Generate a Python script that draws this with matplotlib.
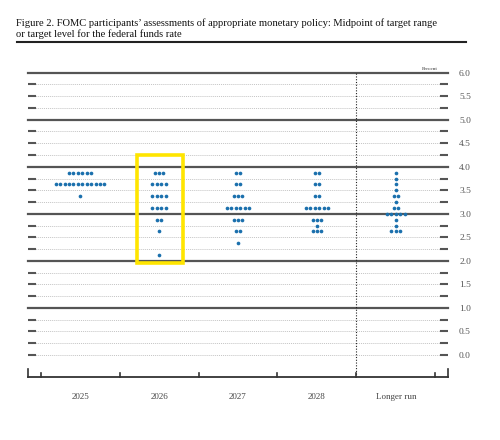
import matplotlib
matplotlib.use("Agg")
import matplotlib.pyplot as plt
from matplotlib.patches import Rectangle
import numpy as np

plt.rcParams['font.family'] = ['Liberation Serif', 'DejaVu Serif']

# dot plot data: midpoint level -> number of participants
columns = ['2025', '2026', '2027', '2028', 'Longer run']
dots_2025 = {3.875: 6, 3.625: 12, 3.375: 1}
dots_2026 = {3.875: 3, 3.625: 4, 3.375: 4, 3.125: 4, 2.875: 2, 2.625: 1, 2.125: 1}
dots_2027 = {3.875: 2, 3.625: 2, 3.375: 3, 3.125: 6, 2.875: 3, 2.625: 2, 2.375: 1}
dots_2028 = {3.875: 2, 3.625: 2, 3.375: 2, 3.125: 6, 2.875: 3, 2.75: 1, 2.625: 3}
dots_longer = {3.875: 1, 3.75: 1, 3.625: 1, 3.5: 1, 3.375: 2, 3.25: 1, 3.125: 2,
               3.0: 5, 2.875: 1, 2.75: 1, 2.625: 3}
all_dots = [dots_2025, dots_2026, dots_2027, dots_2028, dots_longer]
ytick_vals = np.arange(0, 6.01, 0.5)

DOT = '#1b70ad'
XMIN, XMAX = -0.66, 4.66
YBOT = -0.47

fig = plt.figure(figsize=(5, 4.4), dpi=100)
ax = fig.add_axes([0.056, 1 - 377 / 440, 0.84, (377 - 72.7) / 440])
ax.set_xlim(XMIN, XMAX)
ax.set_ylim(YBOT, 6.0)
for s in ax.spines.values():
    s.set_visible(False)

# grid lines
for lev in np.arange(0, 6.01, 0.25):
    if lev >= 1 and abs(lev - round(lev)) < 1e-9:
        ax.plot([XMIN, XMAX], [lev, lev], color='#555555', lw=1.6, clip_on=False, zorder=1)
    else:
        ax.plot([XMIN, XMAX], [lev, lev], color='#c4c4c4', lw=0.7,
                linestyle=(0, (1, 1)), zorder=1)
        ax.plot([XMIN, XMIN + 0.09], [lev, lev], color='#555555', lw=1.5, zorder=2)
        ax.plot([XMAX - 0.09, XMAX], [lev, lev], color='#555555', lw=1.5, zorder=2)

# divider before longer run
ax.plot([3.5, 3.5], [YBOT, 6.0], color='#222222', lw=0.8, linestyle=(0, (1, 1.5)),
        clip_on=False, zorder=2)

# bottom axis
ax.plot([XMIN, XMAX], [YBOT, YBOT], color='#333333', lw=1.3, clip_on=False, zorder=3)
for xt in [XMIN, XMAX]:
    ax.plot([xt, xt], [YBOT, YBOT + 0.16], color='#333333', lw=1.2, clip_on=False, zorder=3)
for xt in np.arange(-0.5, 4.6, 1.0):
    ax.plot([xt, xt], [YBOT, YBOT + 0.09], color='#333333', lw=1.2, clip_on=False, zorder=3)

# dots
dx = 0.056
for i, col in enumerate(all_dots):
    xs, ys = [], []
    for lev, n in col.items():
        for k in range(n):
            xs.append(i + (k - (n - 1) / 2) * dx)
            ys.append(lev)
    ax.scatter(xs, ys, s=7, color=DOT, linewidths=0, zorder=4)

# highlight box
ax.add_patch(Rectangle((0.72, 1.95), 0.58, 2.3, fill=False, edgecolor='#ffe500',
                       lw=2.6, zorder=5))

# labels
for i, name in enumerate(columns):
    ax.text(i, YBOT - 0.43, name, ha='center', va='center', fontsize=6.5, color='#444444')

ax.yaxis.tick_right()
ax.set_yticks(ytick_vals)
ax.set_yticklabels(['%.1f' % v for v in ytick_vals], fontsize=6.8, color='#555555')
ax.tick_params(axis='y', length=0, pad=8)
ax.set_xticks([])
ax.text(4.53, 6.04, 'Percent', ha='right', va='bottom', fontsize=3.8, color='#333333')

fig.text(0.032, 0.948, "Figure 2. FOMC participants\u2019 assessments of appropriate monetary policy: Midpoint of target range",
         fontsize=7.6, va='center', ha='left', color='#111111')
fig.text(0.032, 0.922, "or target level for the federal funds rate",
         fontsize=7.6, va='center', ha='left', color='#111111')
fig.add_artist(plt.Line2D([17 / 500, 466 / 500], [1 - 42 / 440, 1 - 42 / 440],
                          color='#222222', lw=1.5))

fig.savefig('out.png', dpi=100)
